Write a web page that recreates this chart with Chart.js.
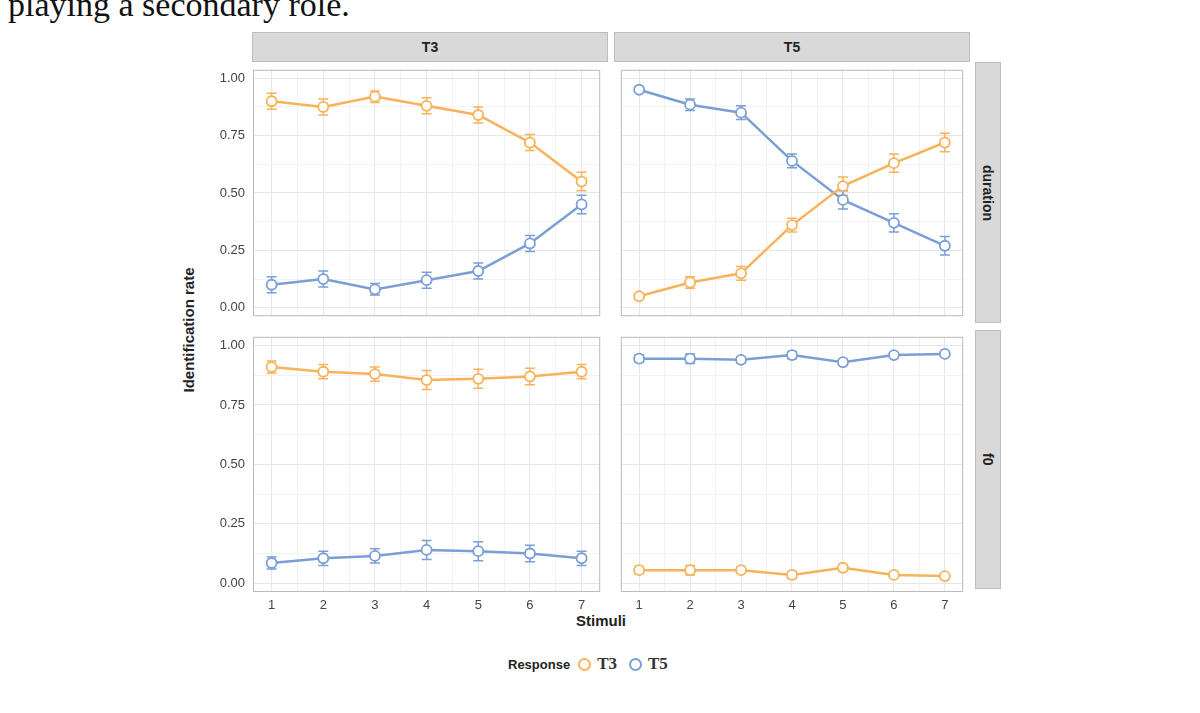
<!DOCTYPE html>
<html><head><meta charset="utf-8">
<script src="https://cdn.jsdelivr.net/npm/chart.js@4"></script>
<style>
body{margin:0;width:1200px;height:713px;background:#fff;position:relative;overflow:hidden;font-family:"Liberation Sans",Arial,sans-serif}
canvas{position:absolute}
.strip{position:absolute;background:#d9d9d9;border:1px solid #bdbdbd;box-sizing:border-box;font-weight:bold;font-size:14px;color:#222;display:flex;align-items:center;justify-content:center}
.vt{writing-mode:vertical-rl}
.t{position:absolute;font-weight:bold;color:#222}
</style></head><body>
<div style="position:absolute;left:8px;top:-14px;font-family:'Liberation Serif',serif;font-size:34px;color:#111">playing a secondary role.</div>
<div class="strip" style="left:252px;top:32px;width:356px;height:30px">T3</div>
<div class="strip" style="left:614px;top:32px;width:356px;height:30px">T5</div>
<div class="strip vt" style="left:975px;top:62px;width:26px;height:261px">duration</div>
<div class="strip vt" style="left:975px;top:330px;width:26px;height:259px">f0</div>
<div class="t" style="left:188px;top:318px;transform:rotate(-90deg);transform-origin:center;width:0;white-space:nowrap;font-size:15px"><span style="position:relative;left:-66px">Identification rate</span></div>
<div class="t" style="left:576px;top:612px;font-size:15px">Stimuli</div>
<div style="position:absolute;left:508px;top:654px;font-size:13px;display:flex;align-items:center;height:20px">
<b style="color:#222">Response</b>
<span style="display:inline-block;width:9px;height:9px;border:2px solid #F8B35A;border-radius:50%;margin-left:8px"></span>
<span style="font-family:'Liberation Serif',serif;font-size:17px;margin-left:6px;font-weight:bold;color:#333">T3</span>
<span style="display:inline-block;width:9px;height:9px;border:2px solid #7A9FD6;border-radius:50%;margin-left:12px"></span>
<span style="font-family:'Liberation Serif',serif;font-size:17px;margin-left:6px;font-weight:bold;color:#333">T5</span>
</div>
<canvas id="c0" style="left:198px;top:63px" width="409" height="260"></canvas>
<canvas id="c1" style="left:614px;top:63px" width="356" height="260"></canvas>
<canvas id="c2" style="left:198px;top:330px" width="409" height="290"></canvas>
<canvas id="c3" style="left:614px;top:330px" width="356" height="290"></canvas>
<script>
const stimuli=[1,2,3,4,5,6,7];
const yTicks=[0,0.25,0.5,0.75,1];
const durT3_T3=[0.90,0.875,0.92,0.88,0.84,0.72,0.55];
const durT3_T5=[0.10,0.125,0.08,0.12,0.16,0.28,0.45];
const durT5_T3=[0.05,0.11,0.15,0.36,0.53,0.63,0.72];
const durT5_T5=[0.95,0.885,0.85,0.64,0.47,0.37,0.27];
const f0T3_T3=[0.91,0.89,0.88,0.855,0.86,0.87,0.89];
const f0T3_T5=[0.085,0.105,0.115,0.14,0.135,0.125,0.105];
const f0T5_T3=[0.055,0.055,0.055,0.035,0.065,0.035,0.03];
const f0T5_T5=[0.945,0.945,0.94,0.96,0.93,0.96,0.965];
const errDurT3=[0.035,0.035,0.025,0.035,0.035,0.035,0.04];
const errDurT5=[0.01,0.025,0.03,0.03,0.04,0.04,0.04];
const errF0L=[0.025,0.03,0.03,0.04,0.04,0.035,0.03];
const errF0R=[0.015,0.02,0.012,0.015,0.012,0.01,0.01];
const ORANGE='#F8B35A',BLUE='#7A9FD6';
const errPlugin={id:'err',beforeDatasetsDraw(ch){const c=ch.ctx;ch.data.datasets.forEach((d,i)=>{const m=ch.getDatasetMeta(i);c.save();c.strokeStyle=d.borderColor;c.lineWidth=1.5;m.data.forEach((p,j)=>{const y1=ch.scales.y.getPixelForValue(d.data[j].y+d.err[j]),y2=ch.scales.y.getPixelForValue(d.data[j].y-d.err[j]);c.beginPath();c.moveTo(p.x,y1);c.lineTo(p.x,y2);c.moveTo(p.x-5,y1);c.lineTo(p.x+5,y1);c.moveTo(p.x-5,y2);c.lineTo(p.x+5,y2);c.stroke();});c.restore();});}};
const borderPlugin={id:'bd',afterDraw(ch){const a=ch.chartArea,c=ch.ctx;c.save();c.strokeStyle='#bbb';c.lineWidth=1;c.strokeRect(a.left+0.5,a.top+0.5,a.width-1,a.height-1);c.restore();}};
function ds(v,e,col){return{data:stimuli.map((x,i)=>({x,y:v[i]})),err:e,borderColor:col,backgroundColor:'#fff',borderWidth:2.5,pointRadius:5,pointBorderWidth:1.8,pointBackgroundColor:'#fff',pointBorderColor:col,tension:0};}
function noPad(s){s.paddingTop=0;s.paddingBottom=0;s.paddingLeft=0;s.paddingRight=0;}
function make(id,sets,showY,showX){
new Chart(document.getElementById(id),{type:'line',data:{datasets:sets},plugins:[errPlugin,borderPlugin],
options:{responsive:false,animation:false,layout:{padding:0},plugins:{legend:{display:false},tooltip:{enabled:false}},
scales:{x:{type:'linear',min:0.64,max:7.36,afterBuildTicks(s){const t=[];for(let v=1;v<=7;v+=0.5)t.push({value:v});s.ticks=t;},
grid:{color:c=>Number.isInteger(c.tick.value)?'#e6e6e6':'#f2f2f2',drawTicks:false},border:{display:false},
ticks:{display:showX,padding:6,color:'#444',font:{size:13,family:'Liberation Sans'},callback:v=>Number.isInteger(v)?String(v):''},
afterFit(s){s.height=showX?28:0;noPad(s);}},
y:{min:-0.037,max:1.037,afterBuildTicks(s){const t=[];for(let v=0;v<=1.0001;v+=0.125)t.push({value:v});s.ticks=t;},
grid:{color:c=>yTicks.includes(c.tick.value)?'#e6e6e6':'#f2f2f2',drawTicks:false},border:{display:false},
ticks:{display:showY,padding:8,color:'#444',font:{size:13,family:'Liberation Sans'},callback:v=>yTicks.includes(v)?v.toFixed(2):''},
afterFit(s){s.width=showY?55:0;noPad(s);}}}}});}
make('c0',[ds(durT3_T3,errDurT3,ORANGE),ds(durT3_T5,errDurT3,BLUE)],true,false);
make('c1',[ds(durT5_T3,errDurT5,ORANGE),ds(durT5_T5,errDurT5,BLUE)],false,false);
make('c2',[ds(f0T3_T3,errF0L,ORANGE),ds(f0T3_T5,errF0L,BLUE)],true,true);
make('c3',[ds(f0T5_T3,errF0R,ORANGE),ds(f0T5_T5,errF0R,BLUE)],false,true);
</script></body></html>
